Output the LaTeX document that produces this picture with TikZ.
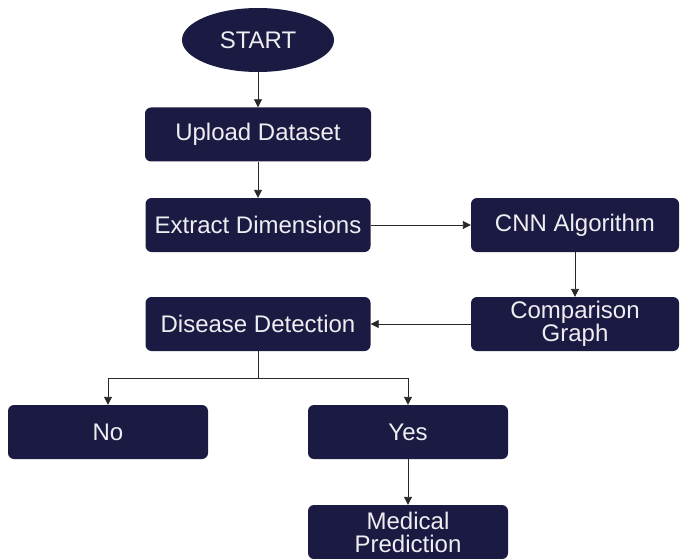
\documentclass[tikz,border=0pt]{standalone}
\usepackage{fontspec}
\setmainfont{Liberation Sans}
\usetikzlibrary{arrows.meta,positioning,shapes.geometric}
\definecolor{flownavy}{RGB}{27,26,66}
\definecolor{flowtext}{RGB}{238,238,242}
\definecolor{flowline}{RGB}{40,40,40}

\begin{document}
\begin{tikzpicture}[x=1pt,y=-1pt,
    stepbox/.style={fill=flownavy, rounded corners=6pt, text=flowtext, align=center,
                    minimum width=#1, minimum height=54pt, inner sep=2pt,
                    font=\fontsize{24}{23}\selectfont},
    stepbox/.default=226pt,
    flow/.style={draw=flowline, line width=0.9pt, -{Triangle[length=8pt,width=8pt]}}]
  \useasboundingbox (0,0) rectangle (680,559);
  % Start
  \node[ellipse, fill=flownavy, text=flowtext, minimum width=152pt, minimum height=64pt,
        inner sep=1pt, font=\fontsize{24}{23}\selectfont] (start) at (258,40) {START};
  % Main column
  \node[stepbox] (upload) at (258,134.5) {Upload Dataset};
  \node[stepbox=225pt] (extract) at (258,225) {Extract Dimensions};
  \node[stepbox=208pt] (cnn) at (575,225) {CNN Algorithm};
  \node[stepbox=208pt] (compare) at (575,324) {Comparison\\Graph};
  \node[stepbox=225pt] (disease) at (258,324) {Disease Detection};
  % Outcomes
  \node[stepbox=200pt] (no) at (108,432) {No};
  \node[stepbox=200pt] (yes) at (408,432) {Yes};
  \node[stepbox=200pt] (medical) at (408,532) {Medical\\Prediction};
  \coordinate (split) at (258,378);
  % Connectors
  \draw[flow] (start) -- (upload);
  \draw[flow] (upload) -- (extract);
  \draw[flow] (extract) -- (cnn);
  \draw[flow] (cnn) -- (compare);
  \draw[flow] (compare) -- (disease);
  \draw[draw=flowline, line width=0.9pt] (disease) -- (split);
  \draw[flow] (split) -| (no);
  \draw[flow] (split) -| (yes);
  \draw[flow] (yes) -- (medical);
\end{tikzpicture}
\end{document}
